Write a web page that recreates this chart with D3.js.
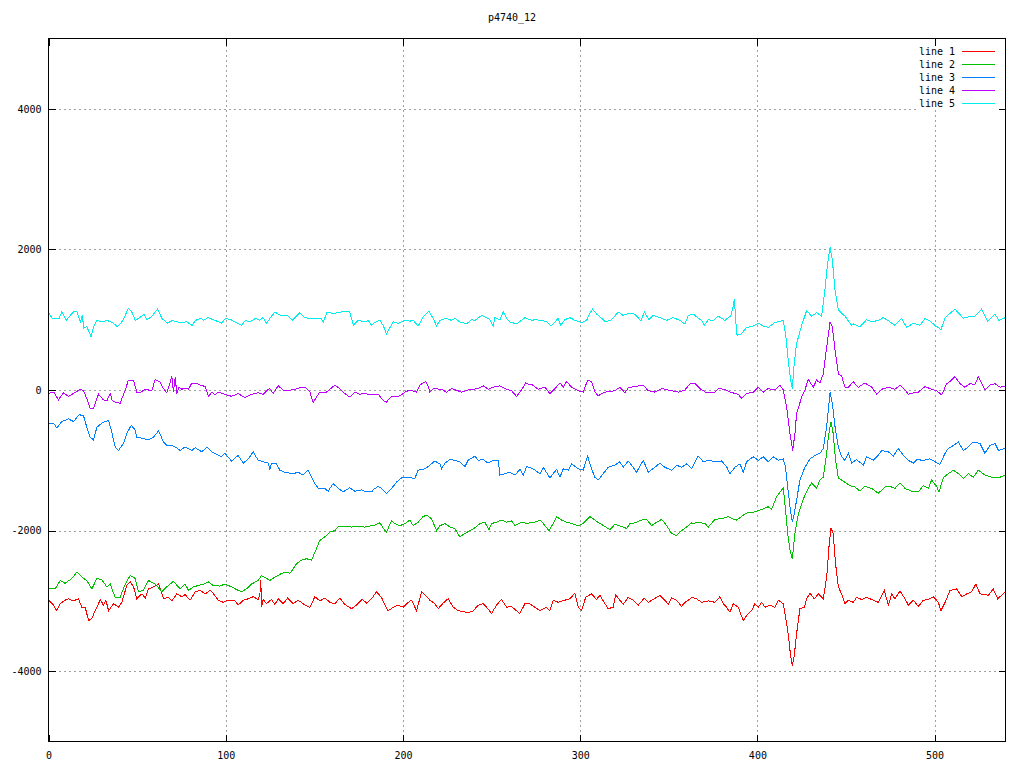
<!DOCTYPE html>
<html><head><meta charset="utf-8">
<script src="https://cdn.jsdelivr.net/npm/d3@7"></script>
<style>body{margin:0;background:#fff}</style>
</head><body><svg id="c" width="1024" height="768"></svg>
<script>
const title = "p4740_12";
const seriesNames = ["line 1","line 2","line 3","line 4","line 5"];
const seriesColors = ["#ff0000","#00c000","#0080ff","#c000ff","#00eeee"];
const xTicks = [0,100,200,300,400,500];
const yTicks = [-4000,-2000,0,2000,4000];
const xDomain = [0,540];
const yDomain = [-5000,5000];

const line1 = [[0,-2990],[2.8,-3060],[4.7,-3140],[6.6,-3040],[9.4,-2990],[11.3,-2970],[14.1,-3000],[16.9,-2970],[18.8,-3090],[20.7,-3090],[22.6,-3280],[24.5,-3250],[26.3,-3140],[28.2,-3040],[29.2,-2980],[31,-3060],[32.4,-2990],[33.9,-3140],[36.7,-3040],[39.5,-3090],[41.4,-3020],[44.2,-2780],[46.1,-2730],[48,-2800],[49.8,-2970],[52.7,-2900],[54.6,-2960],[56.4,-2830],[59.3,-2800],[62.1,-2760],[64.9,-2970],[67.7,-2950],[69.6,-3000],[72.4,-2900],[75.2,-2940],[77.1,-2910],[79.9,-2990],[82.8,-2870],[85.6,-2850],[88.4,-2900],[91.2,-2850],
[92.9,-2890],[95.7,-2990],[98.6,-3020],[101.4,-2990],[105.2,-3000],[107,-3060],[109.9,-2990],[112.7,-2970],[115.5,-2940],[118.3,-2980],[119.3,-2900],[119.8,-2700],[120.2,-3090],[121.1,-2980],[123,-3040],[125.8,-2980],[127.7,-3050],[129.6,-2970],[132.4,-3040],[134.9,-2960],[138.1,-3040],[140.9,-2990],[144.7,-3060],[147.5,-3090],[150.3,-2940],[153.1,-3000],[155.9,-2960],[158.8,-3020],[161.6,-3040],[164.4,-2960],[167.2,-3050],[171,-3110],[173.8,-3060],[177,-2980],[179.5,-3030],[182.3,-2970],
[185.1,-2870],[187.9,-2950],[189.8,-3060],[191.7,-3140],[194.5,-3090],[197.3,-3060],[200.2,-3090],[203,-3020],[204.9,-2990],[207.7,-3140],[210.5,-2870],[213.3,-2940],[215.2,-2990],[218,-3040],[219.9,-3110],[222.7,-3030],[225.5,-2970],[228.4,-3090],[231.2,-3140],[234,-3150],[236.8,-3170],[239.7,-3140],[242.5,-3060],[245.3,-3040],[247.2,-3090],[250,-3180],[252.8,-3060],[255.6,-2980],[258.5,-3090],[261.3,-3080],[264.1,-3140],[266,-3180],[268.8,-3040],[270.7,-3030],[274.5,-3090],
[277.3,-3140],[281,-3090],[282.9,-3140],[284.8,-2990],[287.6,-3020],[291.4,-2990],[294.2,-2970],[297,-2890],[298.9,-3090],[300.8,-3140],[303.1,-2950],[306.4,-2900],[309.3,-2980],[311.1,-2920],[314,-3040],[315.8,-3110],[318.7,-3090],[320,-2910],[322.4,-2990],[324.3,-3050],[327.1,-2950],[330,-2990],[332.8,-3060],[336.2,-2960],[338.4,-3020],[341.2,-2980],[345,-2920],[347.8,-2990],[349.7,-3050],[351.6,-2960],[354.4,-2990],[357.2,-3080],[359.1,-3020],[361,-2990],[362.9,-2950],
[365.7,-2970],[368.5,-3020],[372.3,-3000],[376,-3020],[378.9,-2940],[380.8,-3040],[382.6,-3090],[384.5,-3160],[386.4,-3040],[389.2,-3090],[392,-3280],[393.9,-3210],[396.7,-3140],[398.6,-3040],[400.5,-3090],[402.4,-3020],[404.3,-3090],[407.1,-3060],[409.9,-3090],[411.8,-2990],[414.6,-3040],[415.9,-3230],[417.4,-3470],[418.6,-3750],[419.7,-3920],[420.8,-3780],[422.1,-3470],[424,-3110],[426.5,-3090],[427.8,-2970],[429.7,-2890],[432.1,-2970],[434.4,-2900],[437.2,-2970],[439.1,-2660],[440.4,-2230],[441.5,-1960],[442.8,-2040],[444.1,-2470],[445.7,-2800],[447.5,-2900],[449.4,-3040],[451.3,-2990],[454.1,-3020],
[456,-2950],[458.8,-2980],[461.6,-2950],[464.5,-2980],[468.2,-3020],[471.6,-2850],[473.9,-3060],[475.8,-2900],[477.6,-2970],[480.5,-2860],[483.3,-2970],[485.2,-3060],[488,-2990],[490.8,-3080],[493.6,-2990],[496.5,-2980],[499.3,-2940],[502.1,-3020],[503.6,-3140],[505.9,-3020],[508.7,-2850],[512.4,-2830],[515.3,-2940],[518.1,-2900],[520.9,-2870],[523.3,-2760],[525.6,-2900],[530.3,-2920],[533.1,-2830],[535.6,-2970],[540,-2870]];

const line2 = [[0,-2830],[3.8,-2830],[6.6,-2710],[9.4,-2750],[13.2,-2680],[16,-2590],[18.8,-2660],[21.6,-2710],[24.5,-2830],[27.3,-2680],[30.1,-2700],[32.9,-2800],[34.8,-2760],[37.6,-2950],[40.4,-2950],[43.3,-2760],[46.1,-2640],[48.9,-2680],[50.8,-2870],[53.6,-2850],[56.4,-2710],[60.2,-2760],[64,-2870],[66.8,-2800],[70.5,-2720],[74.3,-2830],[77.1,-2760],[79,-2850],[81.8,-2800],[84.7,-2780],[87.5,-2760],[90.3,-2730],
[92.9,-2780],[96.7,-2790],[99.5,-2760],[103.3,-2800],[107,-2850],[108.9,-2870],[111.7,-2830],[114.6,-2760],[118.3,-2710],[120.2,-2640],[123,-2680],[124.9,-2710],[127.7,-2660],[131.5,-2610],[134.3,-2590],[136.2,-2610],[138.1,-2540],[140,-2470],[142.8,-2420],[145.6,-2400],[148.4,-2420],[150.3,-2310],[153.1,-2140],[155.9,-2090],[158.8,-2020],[161.6,-2000],[163.5,-1940],[167.2,-1940],[171,-1950],[174.7,-1940],[178.5,-1950],[182.3,-1930],
[183.2,-1930],[187,-1890],[189.8,-2000],[190.7,-2020],[193.6,-1860],[195.4,-1900],[198.3,-1930],[201.1,-1900],[203.9,-1850],[205.8,-1930],[208.6,-1880],[211.4,-1800],[213.3,-1780],[216.1,-1830],[219,-2000],[220.8,-1930],[223.7,-1900],[226.5,-1950],[229.3,-1970],[232.1,-2090],[235,-2040],[237.8,-2000],[240.6,-1960],[243.4,-1900],[246.2,-1880],[248.5,-1990],[250,-1900],[252.8,-1880],[255.6,-1850],[258.5,-1880],[261.3,-1860],[263.2,-1930],[266.9,-1880],[269.8,-1900],[272.6,-1880],
[274.5,-1880],[277.3,-1850],[279.2,-1900],[282.4,-2000],[284.8,-1900],[286.7,-1800],[289.5,-1850],[292.3,-1880],[295.2,-1900],[298.9,-1930],[301.7,-1900],[305.5,-1800],[308.3,-1850],[311.1,-1900],[314,-1940],[316.8,-1990],[319.6,-1910],[323.4,-1940],[326.2,-1970],[328.1,-1900],[330.9,-1890],[334.7,-1850],[337.5,-1840],[340.3,-1930],[343.1,-1880],[346,-1840],[348.8,-1930],[351.6,-2040],[354.4,-2070],[357.2,-2000],[360,-1950],[362.9,-1890],
[363.8,-1900],[366.6,-1880],[370.4,-1900],[372.3,-1950],[376,-1840],[379.8,-1830],[383.6,-1800],[385.5,-1830],[388.3,-1850],[392,-1780],[393.9,-1750],[397.7,-1740],[401.4,-1710],[406.1,-1660],[408,-1700],[410.8,-1520],[414.6,-1390],[415.9,-1710],[417.1,-2040],[418.4,-2280],[419.7,-2400],[421.2,-2040],[423.1,-1760],[425.9,-1550],[428.7,-1400],[430.6,-1320],[433.4,-1400],[435.3,-1280],[437.2,-1240],[439.1,-900],[440,-670],[441.5,-450],[442.8,-620],[444.1,-1000],[445.7,-1250],[447.5,-1280],[450.4,-1330],[453.2,-1370],
[455.1,-1380],[457.9,-1440],[460.7,-1370],[464.5,-1400],[468.2,-1470],[472,-1380],[474.8,-1370],[477.6,-1400],[480.5,-1320],[483.3,-1400],[488,-1450],[490.8,-1450],[493.6,-1360],[496.5,-1400],[498.3,-1280],[501.1,-1370],[502.5,-1450],[504.9,-1250],[507.7,-1190],[510.6,-1140],[513.4,-1190],[516.2,-1260],[519,-1190],[521.8,-1240],[524.7,-1140],[528.4,-1210],[532.2,-1240],[536,-1250],[540,-1210]];

const line3 = [[0,-480],[2.8,-470],[4.7,-540],[7.5,-450],[11.3,-410],[14.1,-450],[16,-390],[17.3,-350],[19.8,-370],[21.6,-530],[23.5,-670],[25.4,-710],[27.3,-530],[30.1,-470],[33.9,-430],[35.7,-600],[37.6,-810],[39.5,-860],[42.3,-760],[44.2,-620],[46.7,-500],[48.9,-570],[49.8,-670],[53.6,-690],[56.4,-710],[59.3,-670],[62.1,-580],[64.9,-740],[66.8,-790],[69.6,-790],[71.5,-810],[74.3,-860],[77.1,-810],[80.9,-860],[82.8,-820],[86.5,-880],[89.4,-810],[92.2,-880],
[93.9,-900],[97.6,-950],[99.5,-900],[103.3,-1010],[107,-930],[109.9,-1040],[112.7,-980],[115.5,-880],[118.3,-1000],[121.1,-1020],[124,-1040],[124.9,-1140],[125.8,-1040],[128.7,-1050],[130.5,-1140],[133.4,-1170],[138.1,-1190],[140.9,-1170],[143.7,-1210],[146.5,-1140],[148.4,-1240],[150.3,-1330],[152.2,-1400],[155.9,-1400],[157.8,-1440],[160.6,-1330],[163.5,-1400],[166.3,-1450],[170,-1390],[172.9,-1440],[176.6,-1420],[179.5,-1450],[182.3,-1450],
[183.2,-1420],[186,-1370],[187.9,-1400],[190.7,-1470],[193.6,-1400],[196.4,-1310],[199.2,-1250],[203,-1240],[206.7,-1260],[208.6,-1140],[212.4,-1120],[215.2,-1070],[218,-1010],[220.8,-1050],[221.8,-1120],[223.7,-1040],[226.5,-990],[229.3,-1000],[232.1,-1020],[235,-1090],[236.8,-1000],[240.6,-940],[242.5,-1000],[245.3,-990],[248.1,-1040],[251,-1000],[253.8,-1000],[254.7,-1210],[257.5,-1190],[260.3,-1170],[263.2,-1210],[266,-1130],[267.9,-1210],[269.8,-1090],[271.5,-1100],
[274.5,-1140],[277.3,-1190],[279.2,-1100],[282.9,-1250],[286.7,-1130],[288.6,-1240],[290.5,-1120],[293.3,-1140],[295.2,-1050],[298.9,-1120],[301.7,-1140],[304.2,-940],[306.1,-1100],[308.3,-1240],[310.2,-1280],[313,-1190],[315.8,-1100],[319.6,-1070],[322.4,-1020],[324.3,-1100],[327.1,-1010],[330,-1100],[331.8,-1170],[335.6,-1000],[338.4,-1170],[342.2,-1100],[345,-1040],[347.8,-1100],[351.6,-1140],[354.4,-1070],[357.2,-1100],[360,-1050],[362.9,-1120],
[364.8,-1020],[366.6,-940],[369.5,-1020],[372.3,-1000],[376,-1020],[379.8,-1010],[382.6,-1090],[384.5,-1190],[387.3,-1100],[390.2,-1050],[392,-1170],[393.9,-1020],[397.7,-950],[400.5,-1000],[403.3,-950],[406.1,-1020],[409,-950],[411.8,-1000],[414.6,-980],[415.9,-1100],[417.1,-1380],[418.4,-1660],[419.7,-1880],[420.8,-1760],[422.1,-1570],[424,-1280],[426.8,-1100],[429.7,-980],[432.5,-930],[435.3,-900],[437.2,-830],[439.1,-520],[441,-30],[442.3,-190],[443.8,-520],[445.7,-810],[447.5,-950],[449.4,-1000],[451.3,-900],[453.2,-1040],
[456,-990],[459.8,-1070],[461.6,-950],[465.4,-1000],[468.2,-930],[470.1,-860],[473.9,-880],[476.7,-940],[479.5,-830],[482.3,-930],[485.2,-1000],[488,-1040],[489.9,-990],[493.6,-1000],[497.4,-980],[500.2,-1020],[503,-1060],[505.9,-900],[507.7,-830],[510.6,-790],[513.4,-740],[516.2,-860],[519,-810],[521.8,-740],[525.6,-760],[528.4,-900],[531.2,-790],[534.1,-760],[536,-860],[540,-830]];

const line4 = [[0,-50],[3,-30],[5.6,-140],[8.5,-40],[11.3,-90],[14,-50],[18,10],[19.8,-10],[21.6,-120],[23.5,-260],[25.4,-260],[28.2,-60],[31,-140],[33,-150],[34.8,-50],[36,-150],[37.6,-170],[40.4,-190],[43.3,0],[45.1,140],[48,140],[49.8,-30],[51.7,-40],[54.5,10],[58.3,-10],[60.2,150],[63,110],[64.9,20],[66.8,-40],[69.6,190],[70.5,-30],[71.5,180],[72.4,-50],[73.7,40],[75.2,10],[77.1,30],[79,10],[80.9,100],[83.7,90],[85.6,70],[88.4,50],[90.3,-90],[92.2,-30],
[94,-70],[95.7,-30],[99.5,-60],[103.3,-90],[107,-50],[110.8,-110],[114.6,-60],[118.3,-40],[121.1,-60],[124,10],[124.9,20],[126.8,-50],[129.6,60],[132.4,0],[135.2,-10],[139,10],[141.8,30],[144.7,40],[147.5,-30],[149.4,-180],[151.2,-100],[153.1,-30],[156.9,-30],[161.6,70],[164.4,20],[167.2,-50],[170,-100],[172.9,-30],[175.7,-60],[178.5,-50],[181.3,-70],
[186,-60],[188.9,-150],[190.7,-170],[193.6,-90],[197.3,-90],[199.2,-70],[201.1,-30],[203.9,0],[207.7,-30],[209.6,70],[211.4,100],[212.8,120],[214.3,50],[215.2,-30],[217.1,20],[221.8,10],[224.6,-30],[227.4,20],[233.1,-30],[236.8,0],[242.5,20],[245.3,60],[248.1,10],[251,40],[254.7,60],[257.5,20],[261.3,-10],[264.1,-90],[266.9,0],[269.2,100],[271.6,70],
[272.6,80],[276.3,10],[280.1,40],[282.9,-50],[285.8,20],[288.6,100],[290.5,40],[292.3,120],[295.2,40],[298.9,-10],[301.7,-30],[304.2,140],[306.4,120],[308.3,-30],[310.2,-80],[314,-30],[319.6,-10],[322.4,40],[325.3,-40],[327.1,30],[330.9,50],[335.6,70],[338.4,-10],[342.2,-30],[346,20],[351.6,-10],[355.4,-30],[359.1,0],[362,90],
[364.8,90],[367.6,20],[371.3,-40],[376,-30],[377.9,20],[381.7,10],[384.5,-30],[389.2,-60],[391.1,-120],[393.9,-50],[397.7,-30],[400.5,40],[403.3,-30],[406.1,20],[409.9,0],[412.7,70],[414.6,0],[416.5,-240],[418.4,-620],[419.9,-860],[421.2,-620],[422.1,-340],[425,-100],[426.8,0],[428.7,150],[431.5,40],[433.4,140],[435.3,100],[437.2,230],[439.1,610],[441,970],[442.3,900],[443.8,570],[445.7,230],[447.5,200],[449.4,40],[451.3,40],[454.1,115],
[457,40],[460.7,100],[464.5,40],[467.3,-60],[470.1,10],[473.9,40],[477.6,10],[480.5,70],[483.3,0],[485.2,-60],[488,-40],[490.8,-30],[494.6,50],[498.3,10],[501.1,-10],[504,-70],[506.8,90],[508.7,120],[511.5,190],[514.3,90],[517.1,40],[520,90],[522.8,80],[524.7,190],[528.4,0],[531.2,70],[534.1,90],[536.9,40],[540,50]];

const line5 = [[0,1110],[2,1020],[6,1020],[7.5,1110],[10,990],[14,1110],[16,1110],[18,970],[19,1060],[20,880],[21.6,900],[24,760],[25.4,900],[27.3,990],[30,970],[33,990],[36,960],[39,900],[42,990],[45,1160],[47,1110],[49,990],[52,1040],[54,1080],[55.5,1000],[58,1040],[61.5,1150],[64,1020],[67,950],[70,990],[72,970],[75,960],[78,970],[81,920],[83,990],[86,1020],[87.5,990],[90,1030],
[94,990],[97.6,950],[100,1020],[103,1000],[105,970],[109,920],[111,990],[113.6,970],[117,1020],[119,990],[121,1030],[123,950],[125,1020],[127.7,1110],[131,1060],[135,1060],[137.5,990],[141.8,1100],[144.6,1030],[147,1020],[154,1020],[155,960],[157,1100],[161.5,1090],[165,1110],[170,1110],[172,920],[174.7,990],[178.5,970],[180.4,990],[182.3,920],[184,960],[187,990],[189,910],[190.7,800],[194.5,970],[197.3,950],[201,990],[204,980],[205.8,990],[208.6,910],[211.4,1040],[214.6,1120],[217,1020],[219,910],[220.8,990],[224.6,1020],[227.4,990],[229.3,1020],[232,970],[235.9,940],[238.7,1000],[240.6,990],[244.4,1060],[247.2,1030],[249,1000],[251,910],[251.9,1030],[254.7,1000],[256.6,1110],[258.5,1020],[260.3,970],[264,940],[266.9,990],[268.8,1030],[272.6,990],
[274.5,1000],[278.2,990],[281,970],[283.5,910],[285.8,970],[287.6,1020],[289,920],[291.4,1000],[294.2,1030],[297,990],[300.8,960],[303.6,990],[305.5,1090],[307,1150],[309.3,1080],[312.1,1020],[314.3,970],[317.7,1000],[321.5,1110],[324.3,1060],[327.1,1090],[330.9,1080],[334.3,980],[336.2,1110],[338.8,1000],[341.2,1060],[345,1030],[348.8,990],[352.5,1030],[356.3,990],[359.1,940],[361,1060],[363.8,1080],
[365.7,1040],[368.5,990],[370,920],[372.3,1000],[375.1,990],[377.9,1050],[381.7,990],[385.1,1060],[386.2,1180],[387,1290],[387.9,950],[388.5,780],[391,800],[393.9,890],[397.7,910],[400.5,950],[403.3,910],[406.1,890],[409.9,960],[414.6,990],[415.9,800],[417.4,420],[418.8,140],[419.7,20],[420.8,380],[422.1,660],[425,920],[427.8,1130],[430.6,1050],[433.4,1100],[436.2,1050],[438.1,1420],[439.6,1800],[441,2030],[442.3,1850],[443.8,1420],[445.7,1140],[449.4,1050],[453.2,920],
[454.1,940],[457.9,900],[461.6,1000],[464.5,970],[468.2,990],[471,1030],[474.8,970],[477.6,920],[481.4,1020],[484.2,890],[488,950],[491.7,920],[494.6,1020],[497.4,980],[500.2,920],[503.6,860],[505.9,1030],[511.5,1150],[516.2,1020],[520.9,1050],[522.8,1050],[526.5,1150],[529.9,980],[534.1,1080],[536.3,990],[540,1030]];

const allSeries = [line1, line2, line3, line4, line5];

const FONT = "'DejaVu Sans Mono', 'Liberation Mono', monospace";
const svg = d3.select("#c");
svg.append("rect").attr("width",1024).attr("height",768).attr("fill","#fff");

const x = d3.scaleLinear().domain(xDomain).range([48.5, 1005.5]);
const y = d3.scaleLinear().domain(yDomain).range([741.5, 38.5]);
const [x0, x1] = x.range();
const [y0, y1] = y.range();

// grid
const grid = svg.append("g").attr("stroke","#a0a0a0").attr("stroke-dasharray","2,3").attr("shape-rendering","crispEdges");
grid.selectAll(".gx").data(xTicks.filter(t => t > xDomain[0])).join("line")
  .attr("x1", d => Math.round(x(d)) + 0.5).attr("x2", d => Math.round(x(d)) + 0.5)
  .attr("y1", y0).attr("y2", y1);
grid.selectAll(".gy").data(yTicks).join("line")
  .attr("x1", x0).attr("x2", x1)
  .attr("y1", d => Math.round(y(d)) + 0.5).attr("y2", d => Math.round(y(d)) + 0.5);

// opaque key background
svg.append("rect").attr("x", 916).attr("y", 39).attr("width", 89).attr("height", 71).attr("fill", "#fff");

// series
const lineGen = d3.line().x(d => x(d[0])).y(d => y(d[1]));
const plot = svg.append("g");
allSeries.forEach((s, i) => {
  plot.append("path").datum(s)
    .attr("d", lineGen)
    .attr("fill", "none")
    .attr("stroke", seriesColors[i])
    .attr("stroke-width", 1)
    .attr("shape-rendering", "crispEdges");
});

// axes
function styleAxis(g) {
  g.select(".domain").remove();
  g.selectAll(".tick line").attr("stroke", "#000").attr("shape-rendering", "crispEdges");
  g.selectAll("text").attr("fill", "#000");
  g.attr("font-family", FONT).attr("font-size", 10);
}
const fmt = d => String(d);
svg.append("g").attr("transform", `translate(0,${y0})`)
  .call(d3.axisBottom(x).tickValues(xTicks).tickSize(-7).tickPadding(10).tickFormat(fmt)).call(styleAxis);
svg.append("g").attr("transform", `translate(0,${y1})`)
  .call(d3.axisTop(x).tickValues(xTicks).tickSize(-7).tickFormat("")).call(styleAxis);
svg.append("g").attr("transform", `translate(${x0},0)`)
  .call(d3.axisLeft(y).tickValues(yTicks).tickSize(-7).tickPadding(7).tickFormat(fmt)).call(styleAxis);
svg.append("g").attr("transform", `translate(${x1},0)`)
  .call(d3.axisRight(y).tickValues(yTicks).tickSize(-7).tickFormat("")).call(styleAxis);

// border
svg.append("rect").attr("x", x0).attr("y", y1).attr("width", x1 - x0).attr("height", y0 - y1)
  .attr("fill", "none").attr("stroke", "#000").attr("shape-rendering", "crispEdges");

// title
svg.append("text").attr("x", 512).attr("y", 18).attr("dy", "0.32em").attr("text-anchor", "middle")
  .attr("font-family", FONT).attr("font-size", 10).attr("fill", "#000").text(title);

// legend
const key = svg.append("g");
seriesNames.forEach((n, i) => {
  const ky = 51.5 + 13 * i;
  key.append("text").attr("x", 955).attr("y", ky).attr("dy", "0.32em").attr("text-anchor", "end")
    .attr("font-family", FONT).attr("font-size", 10).attr("fill", "#000").text(n);
  key.append("line").attr("x1", 962).attr("x2", 995).attr("y1", ky).attr("y2", ky)
    .attr("stroke", seriesColors[i]).attr("shape-rendering", "crispEdges");
});
</script></body></html>
